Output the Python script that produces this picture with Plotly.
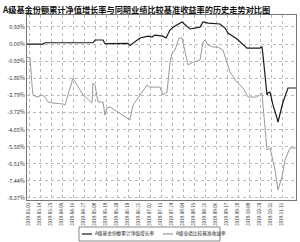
import pandas as pd
import plotly.graph_objects as go

title = "A级基金份额累计净值增长率与同期业绩比较基准收益率的历史走势对比图"
start_date = "2019-03-01"

fund_days = [0, 16, 18, 66, 68, 76, 78, 101, 103, 113, 121, 125, 128, 136, 139, 143, 146,
             155, 163, 168, 173, 176, 181, 193, 198, 201, 210, 220, 233, 235, 236, 240,
             241, 243, 246, 250, 251, 256, 261, 269]
fund_vals = [0.00, 0.00, 0.07, 0.07, 0.22, 0.22, 0.02, 0.04, -0.08, 0.33, 0.43, 0.38, 0.49,
             0.43, 0.33, 0.76, 0.92, 1.20, 0.82, 0.87, 0.92, 1.20, 1.14, 1.09, 0.87, 0.60,
             0.27, -0.22, -0.22, -0.16, -0.60, -2.77, -2.66, -2.61, -3.32, -4.02, -4.24,
             -3.15, -2.39, -2.39]

bench_days = [0, 3, 5, 6, 10, 15, 18, 21, 26, 36, 38, 41, 45, 46, 50, 56, 65, 66, 68, 71,
              76, 78, 80, 83, 91, 103, 106, 113, 120, 123, 133, 136, 140, 143, 145, 148,
              152, 155, 161, 166, 173, 176, 178, 181, 186, 191, 196, 203, 210, 216, 221,
              230, 235, 236, 238, 240, 243, 245, 248, 251, 255, 258, 263, 269]
bench_vals = [-0.71, -0.76, -2.23, -2.77, -2.88, -2.77, -2.88, -3.15, -3.21, -3.26, -3.32,
              -2.77, -2.12, -1.85, -2.23, -2.77, -3.21, -2.12, -2.23, -3.15, -3.15, -3.86,
              -3.48, -3.42, -3.70, -4.13, -3.32, -2.77, -2.23, -2.34, -2.34, -2.77, -2.61,
              -1.03, -0.49, -0.33, 0.33, 0.33, -1.14, -0.98, -0.87, 0.11, 0.22, -0.05,
              -0.16, -0.16, -0.33, -1.52, -2.07, -2.39, -2.88, -2.88, -2.66, -3.32, -4.40,
              -5.76, -5.65, -6.14, -6.85, -7.93, -7.23, -6.30, -5.65, -5.65]

ytick_vals = [0.93, 0.00, -0.93, -1.86, -2.79, -3.72, -4.65, -5.58, -6.51, -7.44, -8.37]
ytick_text = ["0.93%", "0.00%", "-0.93%", "-1.86%", "-2.79%", "-3.72%", "-4.65%",
              "-5.58%", "-6.51%", "-7.44%", "-8.37%"]
xtick_days = [2 + 11 * i for i in range(24)]

names = ["A级基金份额累计净值增长率", "A级业绩比较基准收益率"]
colors = ["#1a1a1a", "#9a9a9a"]

t0 = pd.Timestamp(start_date)
to_dates = lambda ds: [t0 + pd.Timedelta(days=d) for d in ds]
xtick_dates = to_dates(xtick_days)

W, H = 300, 242
ML, MR, MT, MB = 27, 4, 15, 42
PW, PH = W - ML - MR, H - MT - MB
px = lambda x: (x - ML) / PW
py = lambda y: (H - MB - y) / PH

fig = go.Figure()
fig.add_trace(go.Scatter(x=to_dates(fund_days), y=fund_vals, mode="lines", name=names[0],
                         line=dict(color=colors[0], width=1.2)))
fig.add_trace(go.Scatter(x=to_dates(bench_days), y=bench_vals, mode="lines", name=names[1],
                         line=dict(color=colors[1], width=1)))

# compact legend box drawn by hand
legend_box = (79, 227, 220, 241)
item_x = [82, 163]
shapes = [dict(type="rect", xref="paper", yref="paper",
               x0=px(legend_box[0]), x1=px(legend_box[2]),
               y0=py(legend_box[3]), y1=py(legend_box[1]),
               line=dict(color="#555", width=0.7), fillcolor="white")]
annotations = []
for i in range(2):
    ly = py(234)
    shapes.append(dict(type="line", xref="paper", yref="paper",
                       x0=px(item_x[i]), x1=px(item_x[i] + 10), y0=ly, y1=ly,
                       line=dict(color=colors[i], width=1.2)))
    annotations.append(dict(text=names[i], xref="paper", yref="paper",
                            x=px(item_x[i] + 11), y=ly, xanchor="left", yanchor="middle",
                            showarrow=False,
                            font=dict(size=4.7, color="#222", family="Noto Sans CJK SC")))

fig.update_layout(
    width=W, height=H,
    margin=dict(l=ML, r=MR, t=MT, b=MB),
    paper_bgcolor="white", plot_bgcolor="white",
    title=dict(text="<b>" + title + "</b>", x=0.01, xanchor="left",
               yref="container", y=0.97, yanchor="top",
               font=dict(size=8.2, color="#111", family="Noto Sans CJK SC")),
    showlegend=False,
    shapes=shapes, annotations=annotations,
    font=dict(family="Noto Sans CJK SC"),
)
fig.update_xaxes(
    type="date",
    range=[t0, t0 + pd.Timedelta(days=269)],
    tickvals=xtick_dates, ticktext=[d.strftime("%Y-%m-%d") for d in xtick_dates],
    tickangle=-90, tickfont=dict(size=4.5, color="#333"),
    showgrid=True, gridcolor="#bbbbbb", griddash="dot", gridwidth=0.6,
    showline=True, linecolor="#777", linewidth=1, mirror=True, ticks="",
    zeroline=False,
)
fig.update_yaxes(
    range=[-8.48, 1.58],
    tickvals=ytick_vals, ticktext=ytick_text,
    tickfont=dict(size=5.5, color="#333"),
    showgrid=True, gridcolor="#bbbbbb", griddash="dot", gridwidth=0.6,
    showline=True, linecolor="#777", linewidth=1, mirror=True, ticks="",
    zeroline=False,
)
fig.write_html("out.html")
